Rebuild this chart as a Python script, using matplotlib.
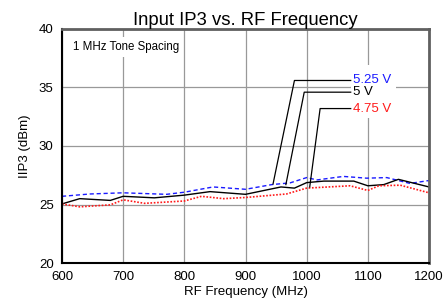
import matplotlib
matplotlib.use('Agg')
import matplotlib.pyplot as plt
from matplotlib.patches import Rectangle

plt.rcParams['font.family'] = ['Liberation Sans', 'DejaVu Sans']

freq_525 = [600, 646, 700, 771, 800, 847, 900, 943, 973, 1000, 1017, 1060, 1098, 1131, 1169, 1200]
ip3_525 = [25.7, 25.9, 26.0, 25.87, 26.05, 26.5, 26.3, 26.7, 26.85, 27.3, 27.1, 27.4, 27.25, 27.3, 26.8, 27.05]

freq_5 = [600, 629, 679, 700, 751, 800, 842, 900, 958, 980, 1000, 1028, 1077, 1100, 1126, 1150, 1200]
ip3_5 = [25.05, 25.5, 25.35, 25.7, 25.57, 25.8, 26.1, 25.87, 26.5, 26.4, 26.87, 27.0, 27.0, 26.6, 26.7, 27.15, 26.5]

freq_475 = [600, 629, 679, 700, 735, 800, 828, 864, 900, 967, 1000, 1071, 1100, 1118, 1153, 1200]
ip3_475 = [25.05, 24.8, 24.97, 25.4, 25.1, 25.3, 25.7, 25.5, 25.6, 25.9, 26.4, 26.6, 26.2, 26.6, 26.65, 26.0]

# label leader lines: (start on curve, corner, text position)
labels = ['5.25 V', '5 V', '4.75 V']
label_colors = ['#1a1aff', 'black', '#ff1a1a']
leader_start = [(945, 26.75), (966, 26.7), (1005, 26.5)]
leader_corner = [(980, 35.6), (996, 34.6), (1022, 33.2)]
leader_end_x = 1072

fig = plt.figure(figsize=(4.44, 3.05), dpi=100)
ax = fig.add_axes([62 / 444, 1 - 263 / 305, 367 / 444, 234 / 305])

ax.plot(freq_525, ip3_525, color='#1a1aff', ls=(0, (3, 2)), lw=1.0)
ax.plot(freq_5, ip3_5, color='black', lw=1.0)
ax.plot(freq_475, ip3_475, color='#ff1a1a', ls=(0, (1, 1)), lw=1.2)

# white panel behind the voltage labels
ax.add_patch(Rectangle((leader_end_x, 32.4), 1146 - leader_end_x, 36.9 - 32.4,
                       facecolor='white', edgecolor='none', zorder=1.5))

for lab, col, s, c in zip(labels, label_colors, leader_start, leader_corner):
    ax.plot([s[0], c[0], leader_end_x], [s[1], c[1], c[1]], color='black', lw=0.9)
    ax.text(leader_end_x + 4, c[1], lab, color=col, fontsize=9.5, va='center', ha='left')

ax.text(618, 38.45, '1 MHz Tone Spacing', fontsize=8.3, va='center', ha='left',
        bbox=dict(facecolor='white', edgecolor='none', pad=3))

ax.set_xlim(600, 1200)
ax.set_ylim(20, 40)
ax.set_xticks(range(600, 1201, 100))
ax.set_yticks(range(20, 41, 5))
ax.grid(True, color='#999999', lw=0.9)
ax.set_axisbelow(True)
ax.tick_params(length=0, labelsize=9.5, pad=6)

ax.spines['left'].set_color('black')
ax.spines['bottom'].set_color('black')
ax.spines['left'].set_linewidth(1.5)
ax.spines['bottom'].set_linewidth(1.5)
ax.spines['top'].set_color('#606060')
ax.spines['right'].set_color('#606060')
ax.spines['top'].set_linewidth(2)
ax.spines['right'].set_linewidth(2)

ax.set_title('Input IP3 vs. RF Frequency', fontsize=13.3, pad=2)
ax.set_xlabel('RF Frequency (MHz)', fontsize=9.5, labelpad=2)
ax.set_ylabel('IIP3 (dBm)', fontsize=9.5, labelpad=6)

fig.savefig('out.png', dpi=100)
